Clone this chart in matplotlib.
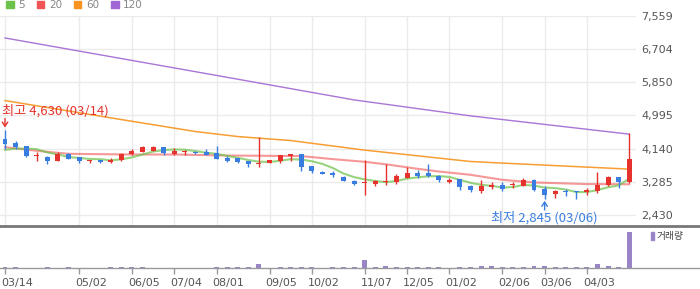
import matplotlib
matplotlib.use('Agg')
import matplotlib.pyplot as plt
from matplotlib.patches import Patch
from matplotlib.transforms import ScaledTranslation
from matplotlib.font_manager import FontProperties
import numpy as np

# ---------------- data ----------------
opens = [4390, 4288, 4210, 3953, 3928, 3832, 4004, 3928, 3815, 3858,
         3807, 3858, 3997, 4064, 4082, 4185, 3997, 4040, 4064, 4048,
         4030, 3902, 3910, 3825, 3730, 3756, 3832, 3953, 4004, 3696,
         3541, 3524, 3414, 3310, 3260, 3225, 3267, 3267, 3380, 3524,
         3524, 3440, 3285, 3345, 3164, 3036, 3139, 3208, 3195, 3182,
         3336, 3097, 2959, 3036, 3053, 3010, 3036, 3190, 3414, 3285]
closes = [4260, 4192, 3961, 3953, 3832, 4004, 3868, 3832, 3825, 3807,
          3850, 4004, 4082, 4192, 4185, 4038, 4090, 4048, 4013, 3987,
          3884, 3825, 3799, 3730, 3773, 3850, 3979, 4004, 3678, 3559,
          3498, 3457, 3293, 3216, 3270, 3293, 3310, 3440, 3516, 3440,
          3422, 3336, 3336, 3139, 3062, 3164, 3208, 3105, 3208, 3336,
          3079, 2951, 3036, 3028, 3010, 3079, 3200, 3405, 3267, 3876]
highs = [4630, 4339, 4210, 4048, 3945, 4048, 4030, 3928, 3858, 3858,
         3894, 4030, 4125, 4218, 4218, 4185, 4159, 4107, 4075, 4133,
         4210, 3953, 3910, 3825, 4441, 3850, 3979, 4004, 4004, 3696,
         3567, 3559, 3440, 3336, 3850, 3336, 3748, 3490, 3653, 3585,
         3748, 3450, 3370, 3345, 3200, 3336, 3285, 3267, 3267, 3387,
         3362, 3174, 3062, 3105, 3053, 3131, 3541, 3440, 3414, 4537]
lows = [4130, 4125, 3935, 3832, 3730, 3832, 3860, 3781, 3781, 3781,
        3781, 3825, 3971, 4064, 4082, 3987, 3979, 3979, 4000, 3980,
        3884, 3799, 3781, 3678, 3678, 3756, 3781, 3832, 3575, 3524,
        3498, 3396, 3293, 3190, 2943, 3165, 3190, 3216, 3380, 3370,
        3405, 3267, 3250, 3079, 3028, 2985, 3087, 3053, 3122, 3182,
        3053, 2845, 2856, 2925, 2848, 2933, 2985, 3165, 3122, 3250]
volumes = [110, 110, 40, 40, 110, 40, 110, 40, 40, 40,
           110, 110, 110, 110, 40, 40, 40, 40, 40, 40,
           110, 110, 110, 110, 400, 40, 110, 110, 110, 110,
           40, 110, 110, 110, 830, 110, 200, 110, 110, 110,
           110, 110, 40, 110, 110, 200, 200, 110, 110, 110,
           200, 200, 110, 110, 110, 110, 400, 200, 150, 3600]

ma5 = [4107, 4140, 4140, 4125, 4040, 3988, 3924, 3898, 3872, 3867,
       3836, 3864, 3914, 3987, 4063, 4100, 4117, 4111, 4075, 4035,
       4004, 3951, 3902, 3845, 3802, 3795, 3826, 3867, 3857, 3814,
       3744, 3639, 3497, 3405, 3347, 3306, 3276, 3306, 3366, 3400,
       3426, 3431, 3410, 3335, 3259, 3207, 3182, 3136, 3149, 3204,
       3187, 3136, 3122, 3086, 3021, 3021, 3071, 3144, 3192, 3365]
ma20_idx = [0, 3, 6, 12, 16, 21, 25, 28, 31, 34, 36, 39, 41, 44, 47, 50, 55, 59]
ma20_val = [4177, 4082, 4005, 3987, 3987, 3961, 3953, 3946, 3868, 3799,
            3735, 3619, 3550, 3465, 3336, 3267, 3226, 3221]
ma60_idx = [0, 10, 18, 22, 27, 34, 44, 47, 59]
ma60_val = [5374, 4930, 4578, 4449, 4346, 4100, 3807, 3766, 3611]
ma120_idx = [0, 16, 33, 44, 59]
ma120_val = [6986, 6215, 5392, 4981, 4511]

y_ticks = [2430, 3285, 4140, 4995, 5850, 6704, 7559]
y_labels = ['2,430', '3,285', '4,140', '4,995', '5,850', '6,704', '7,559']
x_tick_idx = [0, 7, 12, 16, 20, 25, 29, 34, 38, 42, 47, 51, 55]
x_tick_lbl = ['03/14', '05/02', '06/05', '07/04', '08/01', '09/05', '10/02',
              '11/07', '12/05', '01/02', '02/06', '03/06', '04/03']
ma_names = ['5', '20', '60', '120']
hi_label = '최고 4,630 (03/14)'
lo_label = '최저 2,845 (03/06)'

# ---------------- style ----------------
UP = '#e5322d'
DOWN = '#3a7de0'
C5, C20, C60, C120 = '#6cc24a', '#f05454', '#f7931e', '#a066d3'
VOLC = '#9a84c8'
KFONT = ['Noto Sans CJK KR', 'DejaVu Sans']

W, H = 700, 289
PX = 10.58  # pixels per candle


def rect(x0, y0, x1, y1):
    return [x0 / W, 1 - y1 / H, (x1 - x0) / W, (y1 - y0) / H]


fig = plt.figure(figsize=(7, 2.89), dpi=100)
ax = fig.add_axes(rect(0, 15.7, 636, 225))
axv = fig.add_axes(rect(0, 226, 700, 268))

n = len(opens)
xs = np.arange(n)

# ---- price panel ----
ax.set_xlim(-5 / PX, (636 - 5) / PX)
ax.set_ylim(2173, 7559)
ax.set_yticks(y_ticks)
ax.set_yticklabels(y_labels)
ax.yaxis.tick_right()
ax.tick_params(axis='y', length=0, pad=4, labelsize=8, labelcolor='#555555')
ax.set_xticks(x_tick_idx)
ax.tick_params(axis='x', length=0, labelbottom=False)
ax.grid(True, color='#ebebeb', lw=1)
ax.set_axisbelow(True)
for s in ax.spines.values():
    s.set_visible(False)

ax.plot(ma120_idx, ma120_val, color=C120, lw=1.0, alpha=0.9, zorder=2)
ax.plot(ma60_idx, ma60_val, color=C60, lw=1.1, alpha=0.9, zorder=2)
ax.plot(ma20_idx, ma20_val, color=C20, lw=1.5, alpha=0.6, zorder=2)
ax.plot(xs, ma5, color=C5, lw=1.5, alpha=0.7, zorder=2)

o = np.array(opens); c = np.array(closes)
hi = np.array(highs); lo = np.array(lows)
colors = [UP if cc >= oo else DOWN for oo, cc in zip(o, c)]
body_bottom = np.minimum(o, c)
body_h = np.maximum(np.abs(c - o), 28)
ax.vlines(xs, lo, hi, colors=colors, lw=1, zorder=3)
ax.bar(xs, body_h, bottom=body_bottom, width=0.47, color=colors,
       linewidth=0, zorder=4)

# max / min annotations
imax = int(np.argmax(hi)); imin = int(np.argmin(lo))
ax.annotate(hi_label, xy=(imax, hi[imax]), xytext=(-3, 12),
            textcoords='offset pixels', ha='left', va='bottom',
            color=UP, fontsize=9.5, family=KFONT, annotation_clip=False)
ax.annotate(lo_label, xy=(imin, lo[imin]), xytext=(0, -12),
            textcoords='offset pixels', ha='center', va='top',
            color=DOWN, fontsize=9.5, family=KFONT, annotation_clip=False)


def arrow(ix, val, dy_from, dy_to, col):
    x_disp, y_disp = ax.transData.transform((ix, val))
    inv = ax.transData.inverted()
    p_from = inv.transform((x_disp, y_disp + dy_from))
    p_to = inv.transform((x_disp, y_disp + dy_to))
    ax.annotate('', xy=p_to, xytext=p_from,
                arrowprops=dict(arrowstyle='->,head_length=0.3,head_width=0.2',
                                color=col, lw=1, shrinkA=0, shrinkB=0),
                annotation_clip=False)


arrow(imax, hi[imax], 11, 2, UP)
arrow(imin, lo[imin], -11, -2, DOWN)

# ---- volume panel ----
axv.set_xlim(-5 / PX, (700 - 5) / PX)
axv.set_ylim(0, 4200)
axv.bar(xs, volumes, width=0.47, color=VOLC, linewidth=0)
axv.set_yticks([])
axv.set_xticks(x_tick_idx)
axv.set_xticklabels(x_tick_lbl)
axv.tick_params(axis='x', length=4, width=1, color='#999999', pad=3,
                labelsize=8, labelcolor='#555555')
off = ScaledTranslation(-4 / 100, 0, fig.dpi_scale_trans)
for lab in axv.get_xticklabels():
    lab.set_ha('left')
    lab.set_transform(lab.get_transform() + off)
for side in ['left', 'right']:
    axv.spines[side].set_visible(False)
axv.spines['top'].set_color('#777777')
axv.spines['top'].set_linewidth(2)
axv.spines['bottom'].set_color('#999999')
axv.spines['bottom'].set_linewidth(1)

vleg = axv.legend(handles=[Patch(color=VOLC)], labels=['거래량'],
                  loc='upper left', bbox_to_anchor=(651 / W, 1 - 231 / H),
                  bbox_transform=fig.transFigure, frameon=False,
                  handlelength=0.3, handleheight=0.9, handletextpad=0.25,
                  borderpad=0, borderaxespad=0,
                  prop=FontProperties(family=KFONT, size=7))
for t in vleg.get_texts():
    t.set_color('#444444')

# ---- MA legend at top ----
handles = [Patch(color=cc) for cc in (C5, C20, C60, C120)]
leg = fig.legend(handles=handles, labels=ma_names, ncol=4, loc='upper left',
                 bbox_to_anchor=(6 / W, 1 - 0 / H), frameon=False,
                 handlelength=0.75, handleheight=0.75, handletextpad=0.45,
                 columnspacing=1.1, borderpad=0, borderaxespad=0, fontsize=7.5)
for t in leg.get_texts():
    t.set_color('#888888')

fig.savefig('out.png', dpi=100)
